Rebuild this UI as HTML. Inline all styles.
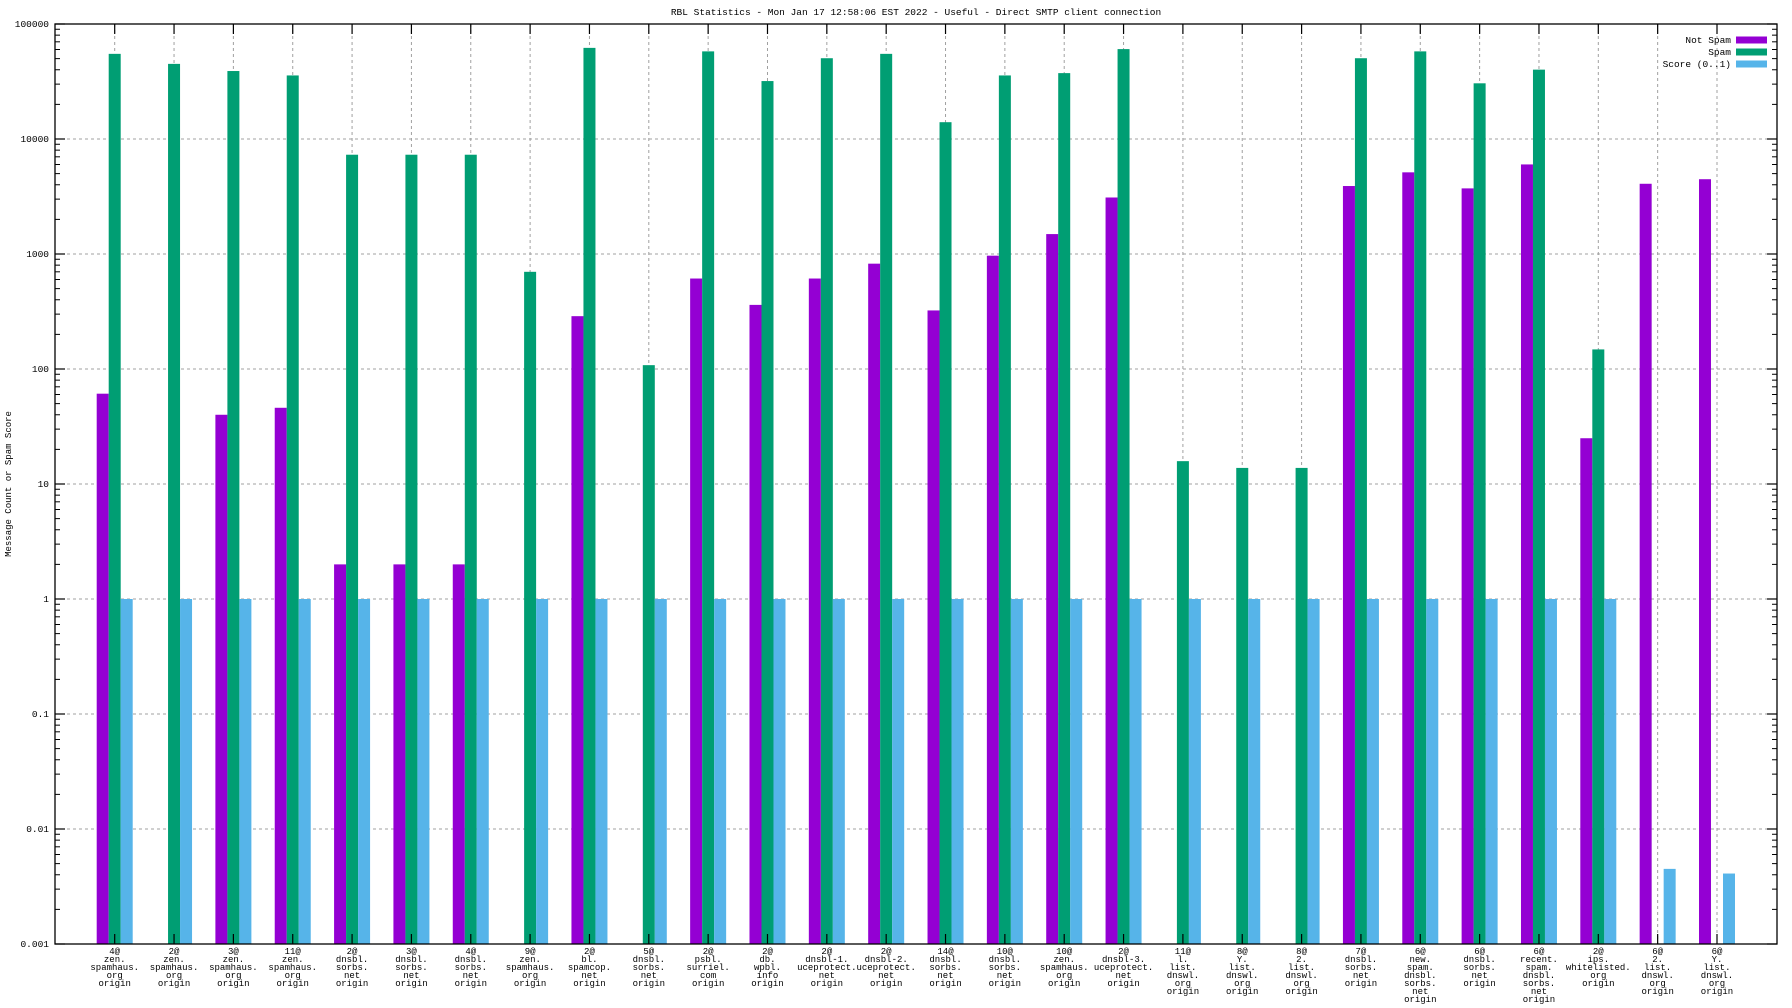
<!DOCTYPE html>
<html><head><meta charset="utf-8"><style>
html,body{margin:0;padding:0;background:#fff;}
svg{display:block;font-family:"Liberation Mono","DejaVu Sans Mono",monospace;}
</style></head><body>
<svg id="chart" width="1792" height="1008" viewBox="0 0 1792 1008" xmlns="http://www.w3.org/2000/svg">
<rect x="0" y="0" width="1792" height="1008" fill="#fff"/>
<text x="916" y="15" font-size="9.5" text-anchor="middle" fill="#000">RBL Statistics - Mon Jan 17 12:58:06 EST 2022 - Useful - Direct SMTP client connection</text>
<text x="0" y="0" font-size="9" text-anchor="middle" fill="#000" transform="translate(11,484) rotate(-90)">Message Count or Spam Score</text>
<g id="grid"></g>
<g id="bars"></g>
<g id="axes"></g>
<g id="legend"></g>
</svg>
<script>
const categories = [
 ["4@","zen.","spamhaus.","org","origin"],
 ["2@","zen.","spamhaus.","org","origin"],
 ["3@","zen.","spamhaus.","org","origin"],
 ["11@","zen.","spamhaus.","org","origin"],
 ["2@","dnsbl.","sorbs.","net","origin"],
 ["3@","dnsbl.","sorbs.","net","origin"],
 ["4@","dnsbl.","sorbs.","net","origin"],
 ["9@","zen.","spamhaus.","org","origin"],
 ["2@","bl.","spamcop.","net","origin"],
 ["5@","dnsbl.","sorbs.","net","origin"],
 ["2@","psbl.","surriel.","com","origin"],
 ["2@","db.","wpbl.","info","origin"],
 ["2@","dnsbl-1.","uceprotect.","net","origin"],
 ["2@","dnsbl-2.","uceprotect.","net","origin"],
 ["14@","dnsbl.","sorbs.","net","origin"],
 ["10@","dnsbl.","sorbs.","net","origin"],
 ["10@","zen.","spamhaus.","org","origin"],
 ["2@","dnsbl-3.","uceprotect.","net","origin"],
 ["11@","l.","list.","dnswl.","org","origin"],
 ["8@","Y.","list.","dnswl.","org","origin"],
 ["8@","2.","list.","dnswl.","org","origin"],
 ["7@","dnsbl.","sorbs.","net","origin"],
 ["6@","new.","spam.","dnsbl.","sorbs.","net","origin"],
 ["6@","dnsbl.","sorbs.","net","origin"],
 ["6@","recent.","spam.","dnsbl.","sorbs.","net","origin"],
 ["2@","ips.","whitelisted.","org","origin"],
 ["6@","2.","list.","dnswl.","org","origin"],
 ["6@","Y.","list.","dnswl.","org","origin"]
];
const notSpam = [61,null,40,46,2,2,2,null,288,null,612,361,612,824,323,967,1490,3100,null,null,null,3900,5130,3720,6010,25,4080,4470];
const spam = [55000,45000,39000,35700,7300,7300,7300,700,62000,108,57800,31900,50400,55000,14000,35700,37400,60500,15.8,13.8,13.8,50400,57800,30500,40100,148,null,null];
const score = [1,1,1,1,1,1,1,1,1,1,1,1,1,1,1,1,1,1,1,1,1,1,1,1,1,1,0.0045,0.0041];
const yTickLabels = ["0.001","0.01","0.1","1","10","100","1000","10000","100000"];
const seriesNames = ["Not Spam","Spam","Score (0..1)"];

const NS="http://www.w3.org/2000/svg";
const L=55,R=1777,T=24,B=944;
const yMinExp=-3,yMaxExp=5;
const firstX=114.7,lastX=1717;
const colors=["#9400d3","#009e73","#56b4e9"];
function y(v){return B-(Math.log10(v)-yMinExp)/(yMaxExp-yMinExp)*(B-T);}
function x(i){return firstX+i*(lastX-firstX)/(categories.length-1);}
function mk(tag,attrs,parent){const e=document.createElementNS(NS,tag);for(const k in attrs)e.setAttribute(k,attrs[k]);parent.appendChild(e);return e;}
const grid=document.getElementById('grid'),bars=document.getElementById('bars'),axes=document.getElementById('axes'),legend=document.getElementById('legend');

// horizontal grid + y ticks
for(let i=0;i<yTickLabels.length;i++){
 const v=Math.pow(10,yMinExp+i),yy=y(v);
 if(i>0&&i<yTickLabels.length-1){
  const g=mk('line',{x1:L,x2:R,y1:yy,y2:yy,stroke:'#a0a0a0','stroke-width':1,'stroke-dasharray':'3,3'},grid);
  
  
 }
 const t=mk('text',{x:L-6,y:yy+3,'font-size':9.5,'text-anchor':'end',fill:'#000'},axes);
 t.textContent=yTickLabels[i];
 
 
 mk('line',{x1:L,x2:L+10,y1:yy,y2:yy,stroke:'#000','stroke-width':1.2},axes);
 mk('line',{x1:R,x2:R-10,y1:yy,y2:yy,stroke:'#000','stroke-width':1.2},axes);
 if(i<yTickLabels.length-1){
  for(let m=2;m<10;m++){
   const ym=y(m*v);
   mk('line',{x1:L,x2:L+5,y1:ym,y2:ym,stroke:'#000','stroke-width':1},axes);
   mk('line',{x1:R,x2:R-5,y1:ym,y2:ym,stroke:'#000','stroke-width':1},axes);
  }
 }
}
// vertical grid + x labels
categories.forEach((lines,i)=>{
 const xx=x(i);
 const g=mk('line',{x1:xx,x2:xx,y1:T,y2:B,stroke:'#a0a0a0','stroke-width':1,'stroke-dasharray':'3,3'},grid);
 
 
 mk('line',{x1:xx,x2:xx,y1:T,y2:T+10,stroke:'#000','stroke-width':1.2},axes);
 mk('line',{x1:xx,x2:xx,y1:B,y2:B-10,stroke:'#000','stroke-width':1.2},axes);
 const t=mk('text',{x:xx,y:954,'font-size':9,'text-anchor':'middle',fill:'#000'},axes);
 
 
 lines.forEach((s,k)=>{const ts=mk('tspan',{x:xx,y:954+k*8},t);ts.textContent=s;});
});
// bars
const series=[notSpam,spam,score];
const bw=12;
series.forEach((arr,si)=>{
 arr.forEach((v,i)=>{
  if(v==null)return;
  const x0=x(i)-18+si*bw, yt=y(v);
  const r=mk('rect',{x:x0,y:yt,width:bw,height:B-yt,fill:colors[si]},bars);
  
  
 });
});
// frame
const fr=mk('rect',{x:L,y:T,width:R-L,height:B-T,fill:'none',stroke:'#000','stroke-width':1.3},axes);


// legend
seriesNames.forEach((n,i)=>{
 const ly=40+i*12;
 const t=mk('text',{x:1731,y:ly+3,'font-size':9.5,'text-anchor':'end',fill:'#000'},legend);
 t.textContent=n;
 
 
 const s=mk('rect',{x:1736,y:ly-3.5,width:31,height:7,fill:colors[i]},legend);
 
 
});
</script>
</body></html>
